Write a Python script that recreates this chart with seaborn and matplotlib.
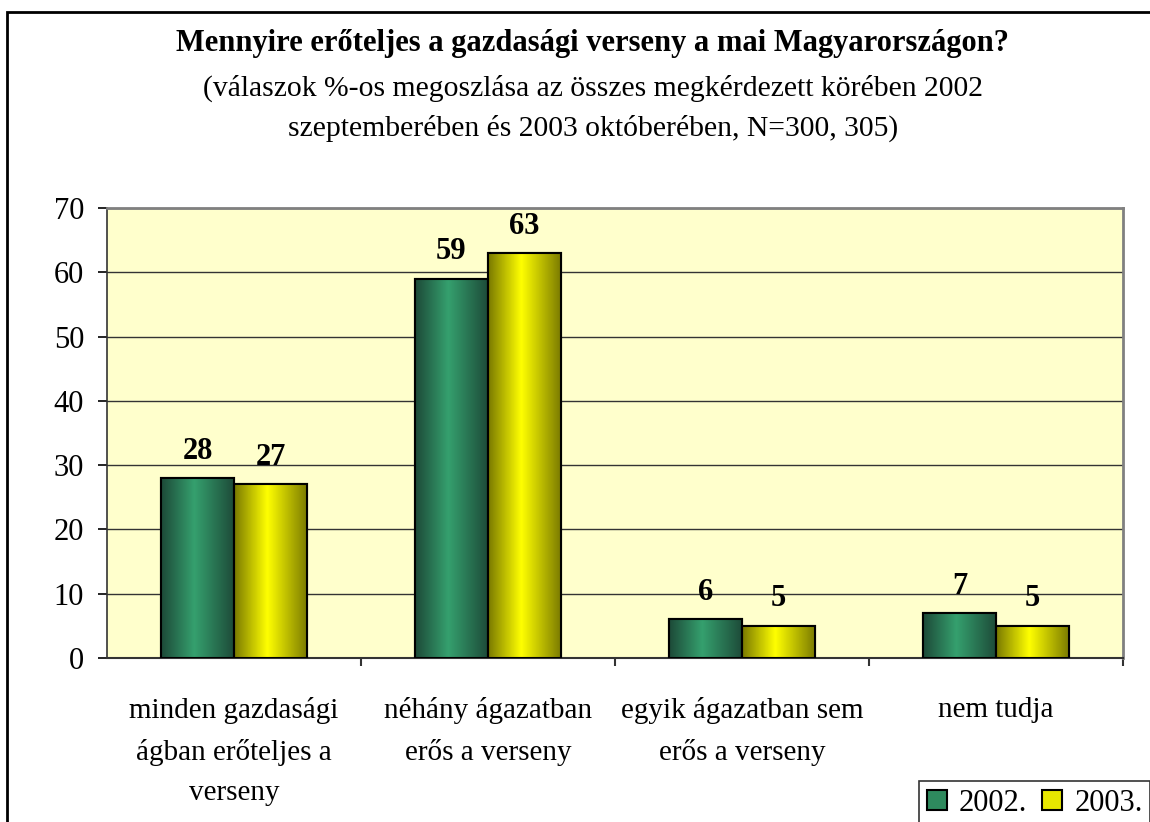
import numpy as np
import pandas as pd
import seaborn as sns
import matplotlib.pyplot as plt
from matplotlib.colors import LinearSegmentedColormap
from matplotlib.patches import Rectangle, Patch

# adatok
kategoriak = ["minden gazdasági\nágban erőteljes a\nverseny",
              "néhány ágazatban\nerős a verseny",
              "egyik ágazatban sem\nerős a verseny",
              "nem tudja"]
evek = ["2002.", "2003."]
ertekek_2002 = [28, 59, 6, 7]
ertekek_2003 = [27, 63, 5, 5]
yticks = [0, 10, 20, 30, 40, 50, 60, 70]

cim = "Mennyire erőteljes a gazdasági verseny a mai Magyarországon?"
alcim1 = "(válaszok %-os megoszlása az összes megkérdezett körében 2002"
alcim2 = "szeptemberében és 2003 októberében, N=300, 305)"

df = pd.DataFrame({
    "kategoria": kategoriak * 2,
    "ev": [evek[0]] * 4 + [evek[1]] * 4,
    "ertek": ertekek_2002 + ertekek_2003,
})

sns.set_style("white")
plt.rcParams["font.family"] = ["Liberation Serif", "DejaVu Serif"]
plt.rcParams["text.color"] = "black"
plt.rcParams["xtick.color"] = "black"
plt.rcParams["ytick.color"] = "black"

szinek = {"2002.": ("#1d4a38", "#35a06e"), "2003.": ("#7a7a00", "#ffff00")}

fig = plt.figure(figsize=(11.5, 8.22), dpi=100)
ax = fig.add_axes([107 / 1150, 1 - 658 / 822, (1123 - 107) / 1150, (658 - 208) / 822])
ax.set_facecolor("#ffffcc")

sns.barplot(data=df, x="kategoria", y="ertek", hue="ev", order=kategoriak,
            hue_order=evek, palette={e: szinek[e][1] for e in evek},
            width=0.575, gap=0, edgecolor="black", linewidth=1.5,
            legend=False, ax=ax, zorder=3)

ax.set_xlim(-0.5, 3.5)
ax.set_ylim(0, 70)

# színátmenet a hasábokon
grad = np.linspace(0, 1, 100).reshape(1, -1)
for cont, ev in zip(ax.containers, evek):
    sotet, vilagos = szinek[ev]
    cmap = LinearSegmentedColormap.from_list(
        ev, [(0, sotet), (0.45, vilagos), (1, sotet)])
    for bar in cont:
        x, w, h = bar.get_x(), bar.get_width(), bar.get_height()
        im = ax.imshow(grad, extent=[x, x + w, 0, h], aspect="auto",
                       cmap=cmap, zorder=3.5)
        im.set_clip_path(bar)
        # keret a színátmenet felett
        ax.add_patch(Rectangle((x, 0), w, h, fill=False, edgecolor="black",
                               linewidth=1.5, zorder=4))
    ax.bar_label(cont, padding=9, fontsize=22, fontweight="bold",
                 color="black", zorder=5)

ax.set_xlim(-0.5, 3.5)
ax.set_ylim(0, 70)

# rácsvonalak
ax.set_yticks(yticks)
ax.yaxis.grid(True, color="#333333", linewidth=1.0)
ax.set_axisbelow(True)

for s in ["top", "right"]:
    ax.spines[s].set_color("#808080")
    ax.spines[s].set_linewidth(2)
ax.spines["left"].set_color("#333333")
ax.spines["bottom"].set_color("#333333")
ax.spines["left"].set_linewidth(1.2)
ax.spines["bottom"].set_linewidth(1.5)

ax.tick_params(axis="y", direction="out", length=6.5, width=1.2, pad=10,
               labelsize=22, left=True, colors="black")
ax.set_xticks(range(4))
ax.set_xticklabels(kategoriak, fontsize=21, linespacing=1.72)
ax.tick_params(axis="x", length=0, pad=28, labelcolor="black")
ax.set_xticks([0.5, 1.5, 2.5, 3.5], minor=True)
ax.tick_params(axis="x", which="minor", direction="out", length=6, width=1.5,
               bottom=True, color="#333333")
ax.set_xlabel("")
ax.set_ylabel("")

# címek
fig.text(0.515, 1 - 43 / 822, cim, ha="center", va="center", fontsize=22,
         fontweight="bold")
fig.text(0.516, 1 - 88 / 822, alcim1, ha="center", va="center", fontsize=21.3)
fig.text(0.516, 1 - 128 / 822, alcim2, ha="center", va="center", fontsize=21.3)

# külső keret
fig.patches.append(Rectangle((7 / 1150, -0.1), 1.2, 0.1 + 1 - 12 / 822,
                             transform=fig.transFigure, fill=False,
                             edgecolor="black", linewidth=2))

# jelmagyarázat
kezelok = [Patch(facecolor="#2e8a5e", edgecolor="black", linewidth=1.5),
           Patch(facecolor="#e6e600", edgecolor="black", linewidth=1.5)]
leg = fig.legend(kezelok, evek, loc="upper left",
                 bbox_to_anchor=(919 / 1150, 1 - 781 / 822), ncol=2,
                 fontsize=22, frameon=True, fancybox=False, handlelength=0.65,
                 handleheight=0.65, handletextpad=0.4, columnspacing=0.5,
                 borderpad=0.25, borderaxespad=0)
leg.get_frame().set_edgecolor("black")
leg.get_frame().set_linewidth(1.2)

fig.savefig("out.png", dpi=100)
